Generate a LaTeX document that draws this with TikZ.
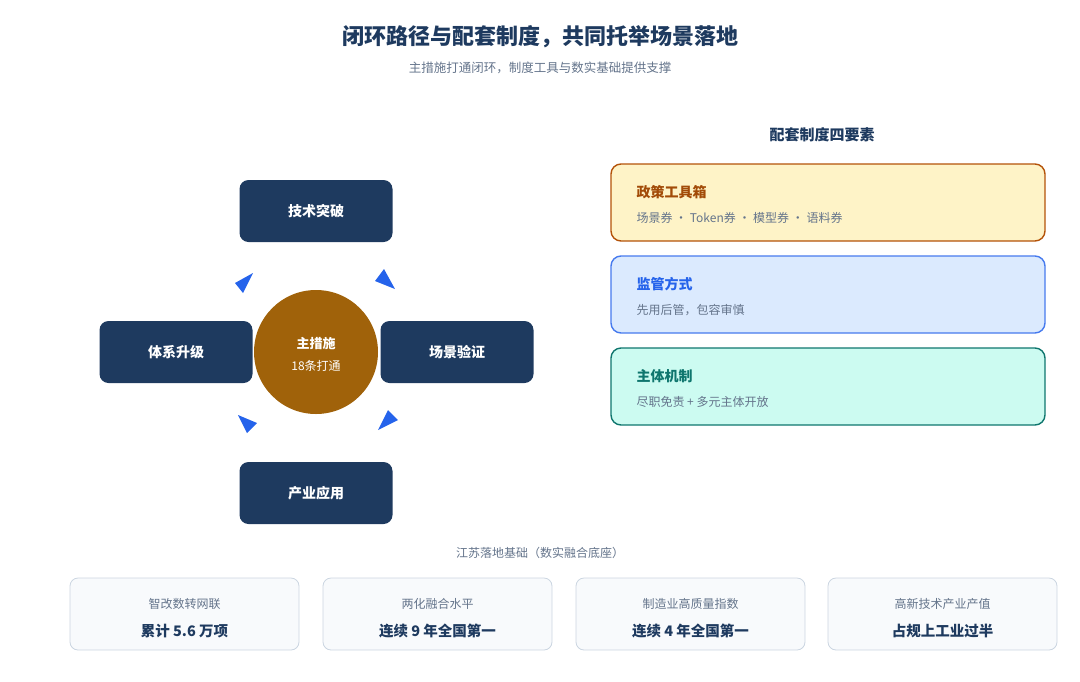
\documentclass[tikz,border=0pt]{standalone}
\usepackage{fontspec}
\setmainfont{Noto Sans CJK SC}
\usetikzlibrary{positioning}
\definecolor{navy}{HTML}{1E3A5F}
\definecolor{txtgray}{HTML}{64748B}
\definecolor{ochre}{HTML}{A0620A}
\definecolor{arrblue}{HTML}{2563EB}
\definecolor{cream}{HTML}{FEF3C7}
\definecolor{amber}{HTML}{B45309}
\definecolor{skyfill}{HTML}{DBEAFE}
\definecolor{mint}{HTML}{CCFBF1}
\definecolor{tealdk}{HTML}{0F766E}
\definecolor{slatefill}{HTML}{F8FAFC}
\definecolor{slateline}{HTML}{CBD5E1}
\tikzset{
  stage/.style={draw=none,fill=navy,rounded corners=9pt,minimum width=153pt,minimum height=62pt,text=white,font=\fontsize{14}{16}\selectfont\bfseries},
  card/.style={rounded corners=10pt,line width=1.4pt,minimum width=434pt,minimum height=77pt},
  base/.style={draw=slateline,fill=slatefill,rounded corners=8pt,line width=0.8pt,minimum width=229pt,minimum height=72pt},
  tip/.style={fill=arrblue,draw=none}
}
\begin{document}
\begin{tikzpicture}[x=1pt,y=-1pt]
	\useasboundingbox (0,0) rectangle (1080,681);
	
	\node[font=\fontsize{22}{24}\selectfont\bfseries,text=navy] (title) at (540,37) {闭环路径与配套制度，共同托举场景落地};
	\node[font=\fontsize{12.5}{14}\selectfont,text=txtgray] (sub) at (540,68) {主措施打通闭环，制度工具与数实基础提供支撑};
	
	% loop
	\node[stage] (tech)  at (316,211) {技术突破};
	\node[stage] (scene) at (457,352) {场景验证};
	\node[stage] (indus) at (316,493) {产业应用};
	\node[stage] (sys)   at (176,352) {体系升级};
	\node[circle,fill=ochre,minimum size=124pt,text=white] (core) at (316,352) {};
	\node[font=\fontsize{13}{16}\selectfont\bfseries,text=white] (coret) at (316,344) {主措施};
	\node[font=\fontsize{12}{14}\selectfont,text=white] (cores) at (316,366) {18条打通};
	\fill[tip] (253,273) -- (235,283) -- (243,293) -- cycle;
	\fill[tip] (375,281) -- (384,269) -- (395,289) -- cycle;
	\fill[tip] (388,410) -- (398,420) -- (378,430) -- cycle;
	\fill[tip] (238,415) -- (257,423) -- (247,433) -- cycle;
	
	% support
	\node[font=\fontsize{15}{17}\selectfont\bfseries,text=navy] (head) at (822,135) {配套制度四要素};
	\node[card,draw=amber,fill=cream] (policy) at (828,202.5) {};
	\node[card,draw=arrblue!85,fill=skyfill] (super) at (828,294.5) {};
	\node[card,draw=tealdk,fill=mint] (body) at (828,386.5) {};
	\node[anchor=west,font=\fontsize{14}{16}\selectfont\bfseries,text=amber!90!black] at (633,192) {政策工具箱};
	\node[anchor=west,font=\fontsize{12}{14}\selectfont,text=txtgray] at (633,218) {场景券 · Token券 · 模型券 · 语料券};
	\node[anchor=west,font=\fontsize{14}{16}\selectfont\bfseries,text=arrblue] at (633,284) {监管方式};
	\node[anchor=west,font=\fontsize{12}{14}\selectfont,text=txtgray] at (633,310) {先用后管，包容审慎};
	\node[anchor=west,font=\fontsize{14}{16}\selectfont\bfseries,text=tealdk] at (633,376) {主体机制};
	\node[anchor=west,font=\fontsize{12}{14}\selectfont,text=txtgray] at (633,402) {尽职免责 + 多元主体开放};
	
	% base
	\node[font=\fontsize{12}{14}\selectfont,text=txtgray] (blabel) at (540,553) {江苏落地基础（数实融合底座）};
	\foreach \x/\a/\b [count=\i] in {184.5/智改数转网联/累计 5.6 万项,437.5/两化融合水平/连续 9 年全国第一,690.5/制造业高质量指数/连续 4 年全国第一,942.5/高新技术产业产值/占规上工业过半}{
		\node[base] (b\i) at (\x,614) {};
		\node[font=\fontsize{12}{14}\selectfont,text=txtgray] at (\x,604) {\a};
		\node[font=\fontsize{14.5}{16}\selectfont\bfseries,text=navy] at (\x,631) {\b};
	}
	
\end{tikzpicture}
\end{document}
